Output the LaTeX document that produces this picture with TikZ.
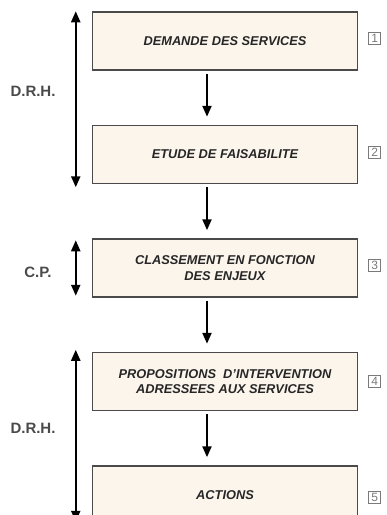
\documentclass[tikz,border=0pt]{standalone}
\usepackage{fontspec}
\setmainfont{Liberation Sans}
\usetikzlibrary{positioning,arrows.meta}
\definecolor{boxfill}{HTML}{FBF5EC}
\definecolor{boxline}{HTML}{4A4A4A}
\definecolor{labgray}{HTML}{4A4A4A}
\definecolor{numgray}{HTML}{7A7A7A}

\begin{document}
\begin{tikzpicture}[x=1pt,y=-1pt]
\tikzset{etape/.style = {draw=boxline, line width=1.5pt, fill=boxfill, minimum width=265pt, minimum height=58pt, inner sep=0pt, align=center, text=black!85, font=\fontsize{12.8}{15.5}\selectfont\bfseries\itshape},
  fleche/.style = {line width=2.2pt, -{Triangle[width=9pt,length=11pt]}},
  flechedouble/.style = {line width=2.2pt, {Triangle[width=9pt,length=11pt]}-{Triangle[width=9pt,length=11pt]}},
  resp/.style = {text=labgray, font=\fontsize{15}{17}\selectfont\bfseries},
  numero/.style = {draw=numgray, line width=0.9pt, text=numgray, minimum width=12pt, minimum height=12pt, inner sep=0pt, font=\fontsize{12}{12}\selectfont}}
\def\gap{54pt}
\def\decal{-18pt}
\def\marge{-16pt}

\useasboundingbox (0,0) rectangle (387,515);

% etapes
\node[etape] (E1) at (225,41) {DEMANDE DES SERVICES};
\node[etape, below=\gap of E1] (E2) {ETUDE DE FAISABILITE};
\node[etape, below=\gap of E2] (E3) {CLASSEMENT EN FONCTION\\DES ENJEUX};
\node[etape, below=\gap of E3] (E4) {PROPOSITIONS~ D'INTERVENTION\\ADRESSEES AUX SERVICES};
\node[etape, below=\gap of E4] (E5) {ACTIONS};

% numeros
\node[numero, right=10pt of E1, yshift=3pt] (N1) {1};
\node[numero, right=10pt of E2, yshift=2pt] (N2) {2};
\node[numero, right=10pt of E3, yshift=3pt] (N3) {3};
\node[numero, right=10pt of E4] (N4) {4};
\node[numero, right=10pt of E5, yshift=-2pt] (N5) {5};

% enchainement
\draw[fleche, shorten <=3pt, shorten >=8pt] ([xshift=\decal]E1.south) -- ([xshift=\decal]E2.north);
\draw[fleche, shorten <=3pt, shorten >=8pt] ([xshift=\decal]E2.south) -- ([xshift=\decal]E3.north);
\draw[fleche, shorten <=3pt, shorten >=8pt] ([xshift=\decal]E3.south) -- ([xshift=\decal]E4.north);
\draw[fleche, shorten <=3pt, shorten >=8pt] ([xshift=\decal]E4.south) -- ([xshift=\decal]E5.north);

% responsables
\draw[flechedouble] ([xshift=\marge]E1.north west) -- ([xshift=\marge,yshift=-3pt]E2.south west);
\draw[flechedouble] ([xshift=\marge,yshift=-2pt]E3.north west) -- ([xshift=\marge,yshift=2pt]E3.south west);
\draw[flechedouble] ([xshift=\marge,yshift=2pt]E4.north west) -- ([xshift=\marge,yshift=3pt]E5.south west);

\node[resp] (R1) at (33,91) {D.R.H.};
\node[resp] (R2) at (38,272) {C.P.};
\node[resp] (R3) at (33,428) {D.R.H.};
\end{tikzpicture}
\end{document}
